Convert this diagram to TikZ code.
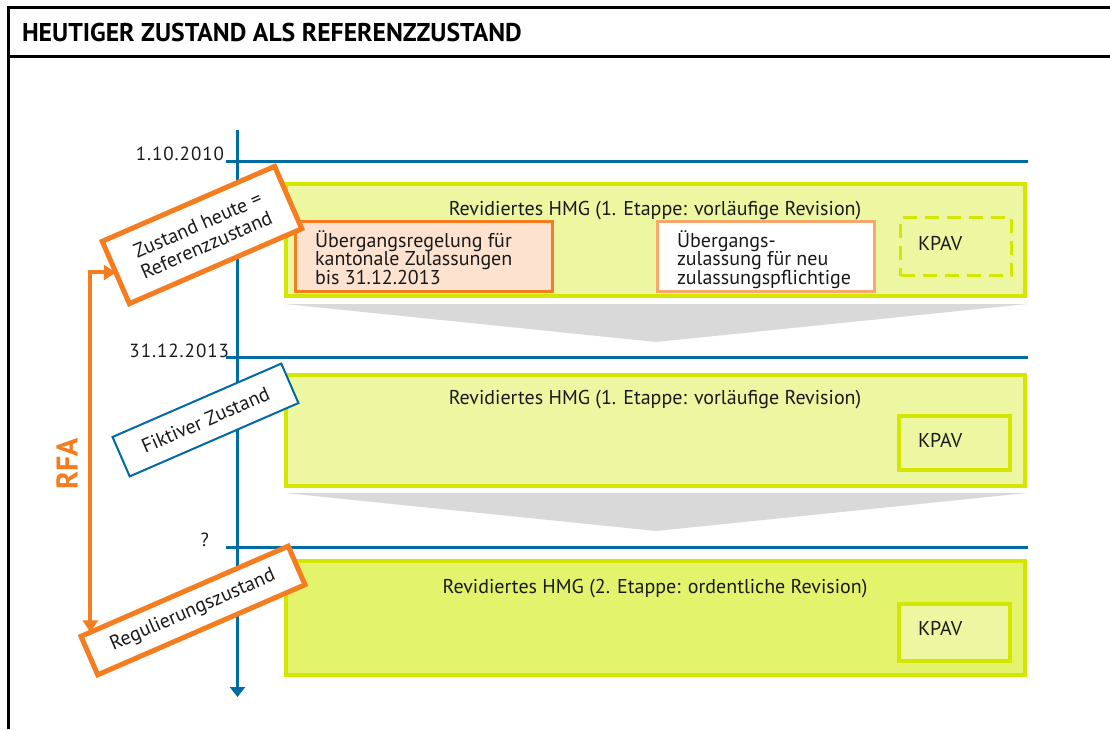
\documentclass[tikz,border=0pt]{standalone}
\usepackage{fontspec}
\setmainfont{PT Sans}
\newfontfamily\datefont[LetterSpace=5]{PT Sans}
\usetikzlibrary{arrows.meta,calc}

\definecolor{tlblue}{RGB}{0,106,163}
\definecolor{rfaorange}{RGB}{245,125,32}
\definecolor{softorange}{RGB}{248,168,110}
\definecolor{peach}{RGB}{253,226,208}
\definecolor{limeline}{RGB}{211,230,0}
\definecolor{limepale}{RGB}{237,246,160}
\definecolor{limestrong}{RGB}{227,243,108}
\definecolor{chevgray}{RGB}{217,217,217}
\definecolor{ink}{RGB}{26,26,26}

\begin{document}
\begin{tikzpicture}[x=1pt,y=-1pt,
  every node/.style={inner sep=0pt, outer sep=0pt, text=ink},
  bodyfont/.style={font=\fontsize{20}{18.5}\selectfont},
  labelfont/.style={font=\fontsize{20}{22}\selectfont},
  frameline/.style={line width=3pt, draw=black},
  timeline/.style={line width=3.5pt, draw=tlblue, -{Triangle[length=10pt,width=15pt]}},
  dateline/.style={line width=2.5pt, draw=tlblue},
  datelabel/.style={font=\datefont\fontsize{19}{20}\selectfont, anchor=base east},
  stage/.style={draw=limeline, line width=4pt, anchor=north west},
  kpavbox/.style={draw=limeline, line width=3.5pt, anchor=north west},
  transition/.style={fill=chevgray},
  statelabel/.style={fill=white, labelfont, align=center, rotate=23.5},
  rfaarrow/.style={draw=rfaorange, line width=4pt, {Triangle[length=12pt,width=15pt]}-{Triangle[length=12pt,width=15pt]}}
]
\useasboundingbox (0,0) rectangle (1110,729);

% frame and heading
\draw[frameline] (1110,7) -- (8.5,7) -- (8.5,729);
\draw[frameline] (8.5,56) -- (1110,56);
\node[anchor=base west, font=\bfseries\fontsize{25.7}{28}\selectfont, text=black] (title) at (22,41)
  {HEUTIGER ZUSTAND ALS REFERENZZUSTAND};

% time axis
\coordinate (tltop) at (237.5,130);
\coordinate (tlend) at (237.5,697);
\draw[timeline] (tltop) -- (tlend);

% date markers
\coordinate (d1a) at (226,161.5); \coordinate (d1b) at (1028,161.5);
\coordinate (d2a) at (226,357.5); \coordinate (d2b) at (1028,357.5);
\coordinate (d3a) at (226,547.5); \coordinate (d3b) at (1028,547.5);
\draw[dateline] (d1a) -- (d1b);
\draw[dateline] (d2a) -- (d2b);
\draw[dateline] (d3a) -- (d3b);
\node[datelabel] (date1) at (224,160) {1.10.2010};
\node[datelabel] (date2) at (229,357) {31.12.2013};
\node[datelabel] (date3) at (209,546) {?};

% transitions between stages
\fill[transition] (285,304) -- (1027,304) -- (656,342) -- cycle;
\fill[transition] (285,493) -- (1027,493) -- (656,531) -- cycle;

% stage 1
\node[stage, fill=limepale, minimum width=739pt, minimum height=112pt] (s1) at (286,184) {};
\node[bodyfont, anchor=base] (s1t) at (655,215) {Revidiertes HMG (1. Etappe: vorläufige Revision)};
\node[draw=rfaorange, line width=3.5pt, fill=peach, anchor=north west,
      minimum width=257pt, minimum height=70pt] (ueb1) at (295.5,221.5) {};
\node[bodyfont, anchor=base west, align=left] (ueb1t) at (315,284)
  {Übergangsregelung für\\kantonale Zulassungen\\bis 31.12.2013};
\node[draw=softorange, line width=3pt, fill=white, anchor=north west,
      minimum width=217pt, minimum height=70pt] (ueb2) at (657.5,221.5) {};
\node[bodyfont, anchor=base west, align=left] (ueb2t) at (677,284)
  {Übergangs-\\zulassung für neu\\zulassungspflichtige};
\node[kpavbox, line width=3pt, dash pattern=on 14pt off 8pt, minimum width=111pt, minimum height=58pt] (k1) at (900.5,217.5) {};
\node[bodyfont, anchor=base west] (k1t) at (918,250) {KPAV};

% stage 2
\node[stage, fill=limepale, minimum width=739pt, minimum height=111pt] (s2) at (286,375) {};
\node[bodyfont, anchor=base] (s2t) at (655,404) {Revidiertes HMG (1. Etappe: vorläufige Revision)};
\node[kpavbox, fill=limepale, minimum width=111pt, minimum height=54pt] (k2) at (899,416) {};
\node[bodyfont, anchor=base west] (k2t) at (918,447) {KPAV};

% stage 3
\node[stage, fill=limestrong, minimum width=739pt, minimum height=114pt] (s3) at (286,561) {};
\node[bodyfont, anchor=base] (s3t) at (655,593) {Revidiertes HMG (2. Etappe: ordentliche Revision)};
\node[kpavbox, fill=limepale, minimum width=111pt, minimum height=57pt] (k3) at (899,604) {};
\node[bodyfont, anchor=base west] (k3t) at (918,635) {KPAV};

% state labels
\node[statelabel, draw=rfaorange, line width=5pt, minimum width=188pt, minimum height=68pt] (z1) at (202,235)
  {Zustand heute =\\Referenzzustand};
\node[statelabel, draw=tlblue, line width=2pt, minimum width=184pt, minimum height=43pt] (z2) at (205.5,420)
  {Fiktiver Zustand};
\node[statelabel, draw=rfaorange, line width=5pt, minimum width=226pt, minimum height=42pt] (z3) at (193,610.5)
  {Regulierungszustand};

% RFA span
\draw[rfaarrow] (z1.west) -| ($(z3.north west)!0.045!(z3.north east)$);
\node[rotate=90, font=\bfseries\fontsize{30}{30}\selectfont, text=rfaorange] (rfa) at (67,464) {RFA};
\end{tikzpicture}
\end{document}
